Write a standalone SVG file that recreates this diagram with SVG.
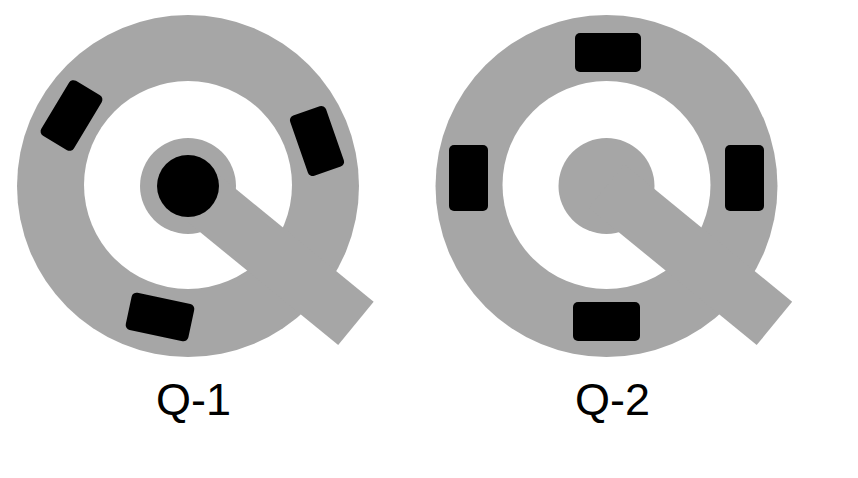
<svg xmlns="http://www.w3.org/2000/svg" width="858" height="478" viewBox="0 0 858 478">
<style>
.ring{fill:#a6a6a6}
.hole{fill:#ffffff}
.pad{fill:#000000}
.lbl{font-family:"Liberation Sans",Arial,sans-serif;font-size:45px;fill:#000000}
</style>
<rect width="858" height="478" fill="#ffffff"/>
<g id="q1">
<circle class="ring" cx="188" cy="186" r="171"/>
<circle class="hole" cx="188" cy="185" r="104"/>
<circle class="ring" cx="188" cy="186" r="48"/>
<rect class="ring" x="0" y="-28" width="217" height="56" transform="translate(188,186) rotate(39.3)"/>
<circle class="pad" cx="188" cy="186" r="31"/>
<rect class="pad" x="-32" y="-19" width="64" height="38" rx="5" transform="translate(71.5,115.5) rotate(-59)"/>
<rect class="pad" x="-32" y="-19" width="64" height="38" rx="5" transform="translate(317,141) rotate(70.8)"/>
<rect class="pad" x="-32" y="-19" width="64" height="38" rx="5" transform="translate(160,317) rotate(192)"/>
</g>
<g id="q2">
<circle class="ring" cx="606.5" cy="186" r="171"/>
<circle class="hole" cx="606.5" cy="185" r="104"/>
<circle class="ring" cx="606.5" cy="186" r="48"/>
<rect class="ring" x="0" y="-28" width="217" height="56" transform="translate(606.5,186) rotate(39.3)"/>
<rect class="pad" x="575" y="33" width="66" height="39" rx="5"/>
<rect class="pad" x="573" y="302" width="67" height="39" rx="5"/>
<rect class="pad" x="449" y="145" width="39" height="66" rx="5"/>
<rect class="pad" x="725" y="145" width="39" height="66" rx="5"/>
</g>
<g id="labels">
<text class="lbl" x="156" y="415">Q-1</text>
<text class="lbl" x="575" y="415">Q-2</text>
</g>
</svg>
